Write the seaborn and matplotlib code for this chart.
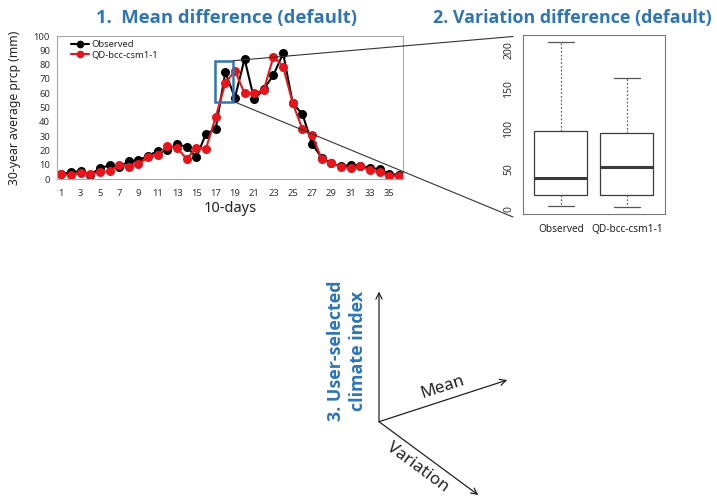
import numpy as np
import pandas as pd
import matplotlib
matplotlib.use("Agg")
import matplotlib.pyplot as plt
from matplotlib.patches import Rectangle
import seaborn as sns

# ---------------- data ----------------
days = list(range(1, 37))
observed = [3.5, 5.0, 5.6, 3.2, 7.7, 9.8, 8.6, 12.6, 13.2, 16.5, 19.7, 20.7,
            24.4, 22.7, 15.3, 31.8, 35.1, 74.7, 57.0, 84.0, 55.8, 63.0, 72.8, 87.9,
            53.0, 45.5, 24.8, 15.0, 11.2, 9.2, 9.8, 9.3, 8.0, 7.0, 3.7, 3.0]
qd_bcc = [3.7, 2.8, 4.2, 4.0, 4.9, 5.8, 9.8, 8.6, 10.7, 15.3, 17.2, 23.0,
          22.0, 14.2, 22.0, 21.4, 43.3, 67.0, 75.8, 60.0, 60.0, 62.5, 85.6, 78.6,
          53.0, 35.0, 30.8, 14.0, 11.2, 8.8, 7.7, 9.0, 6.3, 4.9, 2.3, 2.5]
series_names = ["Observed", "QD-bcc-csm1-1"]
series_colors = ["black", "#e8141b"]
x_tick_labels = [str(d) if d % 2 == 1 else "" for d in days]
y_ticks = list(range(0, 101, 10))

# box-plot five-number summaries (min, Q1, median, Q3, max)
box_groups = ["Observed", "QD-bcc-csm1-1"]
box_observed = [3.8, 16.7, 38.4, 97.9, 209.5]
box_qd = [1.6, 17.5, 53.0, 95.7, 164.4]
box_ticks = [0, 50, 100, 150, 200]

# zoom window (highlighted dekads) on the line chart
zoom_x = (16.9, 18.8)
zoom_y = (53.7, 82.8)

title1 = "1.  Mean difference (default)"
title2 = "2. Variation difference (default)"
title3 = "3. User-selected\nclimate index"

# ---------------- style ----------------
sns.set_style("white")
plt.rcParams["font.family"] = ["Noto Sans", "DejaVu Sans"]
BLUE = "#2e75b6"
W, H = 717, 499
fig = plt.figure(figsize=(W / 100, H / 100), dpi=100)

# ---------------- panel 1: line chart ----------------
ax1 = fig.add_axes([57 / W, 1 - 179.3 / H, (402.7 - 57) / W, (179.3 - 36) / H])
df = pd.DataFrame({
    "day": days * 2,
    "prcp": observed + qd_bcc,
    "series": [series_names[0]] * len(days) + [series_names[1]] * len(days),
})
sns.lineplot(data=df, x="day", y="prcp", hue="series", hue_order=series_names,
             palette=series_colors, marker="o", markersize=6.5, markeredgewidth=0,
             linewidth=1.5, ax=ax1)
ax1.set_xlim(0.55, 36.4)
ax1.set_ylim(0, 100)
ax1.set_xticks(days)
ax1.set_xticklabels(x_tick_labels)
ax1.set_yticks(y_ticks)
ax1.tick_params(axis="both", which="both", direction="out", length=3, width=0.6,
                color="#8c8c8c", labelsize=6.8, labelcolor="#333333", pad=2)
ax1.tick_params(axis="x", pad=4)
for s in ax1.spines.values():
    s.set_color("#a6a6a6")
    s.set_linewidth(0.8)
ax1.set_xlabel("10-days", fontsize=10.5, color="#222222", labelpad=2)
ax1.set_ylabel("30-year average prcp (mm)", fontsize=8.8, color="#222222", labelpad=9)
ax1.grid(False)
leg = ax1.legend(loc="upper left", bbox_to_anchor=(0.03, 0.995), frameon=False,
                 fontsize=6.8, handlelength=1.9, handletextpad=0.2, labelspacing=0.1,
                 borderaxespad=0, markerscale=0.85)
ax1.add_patch(Rectangle((zoom_x[0], zoom_y[0]), zoom_x[1] - zoom_x[0], zoom_y[1] - zoom_y[0],
                        fill=False, edgecolor=BLUE, linewidth=1.8, zorder=5))

# ---------------- panel 2: box plot ----------------
ax2 = fig.add_axes([522.7 / W, 1 - 213.8 / H, (665 - 522.7) / W, (213.8 - 35) / H])
bdf = pd.DataFrame({
    "group": [box_groups[0]] * 5 + [box_groups[1]] * 5,
    "value": box_observed + box_qd,
})
sns.boxplot(data=bdf, x="group", y="value", order=box_groups, whis=(0, 100),
            width=0.8, color="white", linecolor="#3a3a3a", linewidth=0.9,
            showfliers=False, ax=ax2,
            whiskerprops=dict(linestyle=(0, (1.5, 1.5)), color="#666666"),
            capprops=dict(color="#555555"),
            medianprops=dict(linewidth=2.2, color="#3a3a3a"))
ax2.set_xlim(-0.577, 1.579)
ax2.set_ylim(-6.5, 218.5)
ax2.set_yticks(box_ticks)
ax2.set_xlabel("")
ax2.set_ylabel("")
ax2.tick_params(axis="y", direction="out", length=4, width=0.6, color="#444444",
                labelsize=7.5, labelcolor="#333333", labelrotation=90, pad=2)
for t in ax2.get_yticklabels():
    t.set_va("center")
ax2.tick_params(axis="x", direction="out", length=3, width=0.6, color="#444444",
                labelsize=7.3, labelcolor="#222222", pad=4)
for t in ax2.get_xticklabels():
    t.set_fontweight("medium")
for s in ax2.spines.values():
    s.set_color("#777777")
    s.set_linewidth(0.8)

# ---------------- overlay: titles, connectors, 3D sketch ----------------
ov = fig.add_axes([0, 0, 1, 1], zorder=10)
ov.set_xlim(0, W)
ov.set_ylim(H, 0)
ov.axis("off")
ov.patch.set_alpha(0)

ov.text(226, 18, title1, ha="center", va="center", fontsize=13.3, fontweight="bold",
        color=BLUE, family=["Open Sans", "DejaVu Sans"])
ov.text(572, 18, title2, ha="center", va="center", fontsize=12.9, fontweight="bold",
        color=BLUE, family=["Open Sans", "DejaVu Sans"])

ov.plot([233.3, 513], [60.7, 36.5], color="#333333", lw=0.8)
ov.plot([236, 513], [102.5, 217], color="#333333", lw=0.8)

origin = (379, 421.7)
arrow_kw = dict(arrowstyle="->", lw=0.9, color="#222222", shrinkA=0, shrinkB=0,
                mutation_scale=11)
ov.annotate("", xy=(379, 291.5), xytext=origin, arrowprops=arrow_kw)
ov.annotate("", xy=(507.3, 380), xytext=origin, arrowprops=arrow_kw)
ov.annotate("", xy=(478.3, 495), xytext=origin, arrowprops=arrow_kw)

ov.text(443, 387, "Mean", rotation=18, ha="center", va="center", fontsize=12.3,
        color="#222222", rotation_mode="anchor")
ov.text(418, 467, "Variation", rotation=-36.5, ha="center", va="center", fontsize=12.3,
        color="#222222", rotation_mode="anchor")
ov.text(347, 351, title3, rotation=90, ha="center", va="center", fontsize=12.9,
        fontweight="bold", color=BLUE, linespacing=1.25, multialignment="center",
        family=["Open Sans", "DejaVu Sans"])

fig.savefig("out.png", dpi=100)
